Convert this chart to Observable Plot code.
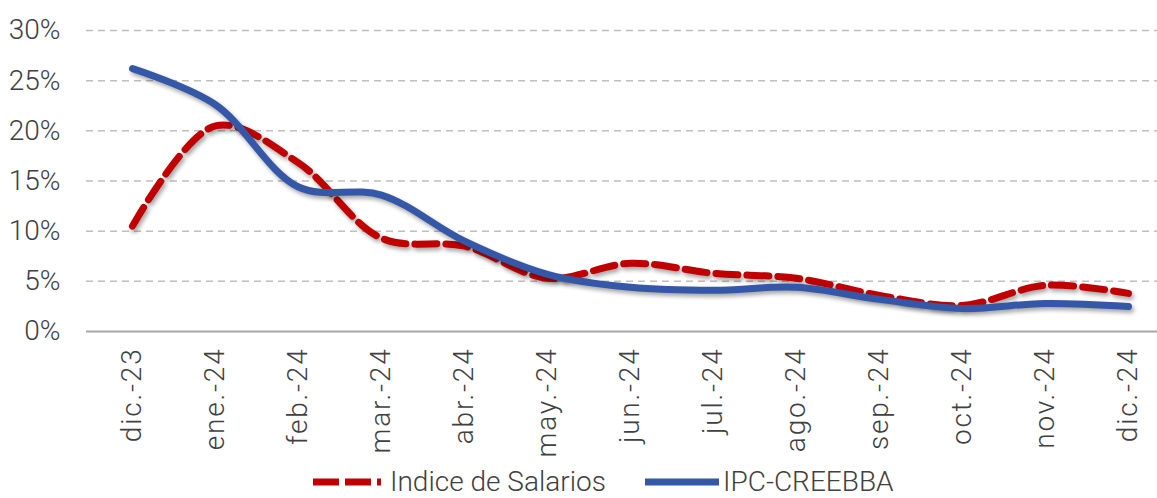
<!DOCTYPE html>
<html>
<head>
<meta charset="utf-8">
<script src="https://cdn.jsdelivr.net/npm/d3@7"></script>
<script src="https://cdn.jsdelivr.net/npm/@observablehq/plot@0.6"></script>
<style>
  html, body { margin: 0; padding: 0; background: #fff; }
  #chart { width: 1157px; }
  .series path { filter: drop-shadow(2px 3px 2px rgba(0,0,0,0.35)); }
  .xax text { letter-spacing: 1.8px; }
  #legend { position: relative; width: 1157px; height: 33px; font-family: Roboto, sans-serif; font-weight: 300; font-size: 28px; line-height: 28px; color: #404040; }
  #legend .item { position: absolute; top: 3px; height: 28px; display: flex; align-items: center; }
</style>
</head>
<body>
<div id="chart"></div>
<div id="legend"></div>
<script>
const months = ["dic.-23","ene.-24","feb.-24","mar.-24","abr.-24","may.-24","jun.-24","jul.-24","ago.-24","sep.-24","oct.-24","nov.-24","dic.-24"];
const salarios = [10.5, 20.5, 16.8, 9.3, 8.5, 5.3, 6.8, 5.8, 5.3, 3.6, 2.6, 4.6, 3.8];
const ipc = [26.2, 22.6, 14.4, 13.6, 9.0, 5.7, 4.4, 4.1, 4.4, 3.2, 2.3, 2.8, 2.5];
const yTicks = [0, 5, 10, 15, 20, 25, 30];
const seriesNames = ["Indice de Salarios", "IPC-CREEBBA"];
const colors = ["#C00000", "#3557A8"];

const salData = months.map((m, i) => ({month: m, value: salarios[i]}));
const ipcData = months.map((m, i) => ({month: m, value: ipc[i]}));

const chart = Plot.plot({
  width: 1157,
  height: 465,
  marginLeft: 86,
  marginRight: 0,
  marginTop: 30,
  marginBottom: 134,
  style: {fontFamily: "Roboto, sans-serif", fontWeight: 300, fontSize: "28px", color: "#404040", background: "#fff"},
  x: {type: "point", domain: months, range: [127, 1133], padding: 0, label: null},
  y: {domain: [0, 30], label: null},
  marks: [
    Plot.ruleY(yTicks.filter(d => d > 0), {stroke: "#BFBFBF", strokeWidth: 1.5, strokeDasharray: "7,5"}),
    Plot.ruleY([0], {stroke: "#A6A6A6", strokeWidth: 2}),
    Plot.axisY({ticks: yTicks, tickFormat: d => d + "%", tickSize: 0, tickPadding: 26, label: null}),
    Plot.axisX({tickRotate: -90, tickSize: 0, tickPadding: 16, label: null, className: "xax"}),
    Plot.line(salData, {x: "month", y: "value", stroke: colors[0], strokeWidth: 7, strokeDasharray: "22,9", curve: "catmull-rom", className: "series"}),
    Plot.line(ipcData, {x: "month", y: "value", stroke: colors[1], strokeWidth: 7, curve: "catmull-rom", className: "series"})
  ]
});
document.getElementById("chart").appendChild(chart);

const legend = document.getElementById("legend");
const legendX = [313, 645];
const sampleW = [68, 74];
const sampleGap = [9, 4];
seriesNames.forEach((name, i) => {
  const item = document.createElement("div");
  item.className = "item";
  item.style.left = legendX[i] + "px";
  const dash = i === 0 ? 'stroke-dasharray="26,6"' : '';
  item.innerHTML = `<svg width="${sampleW[i]}" height="12" style="margin-right:${sampleGap[i]}px"><line x1="0" y1="6" x2="${sampleW[i]}" y2="6" stroke="${colors[i]}" stroke-width="7" ${dash}/></svg><span>${name}</span>`;
  legend.appendChild(item);
});
</script>
</body>
</html>
